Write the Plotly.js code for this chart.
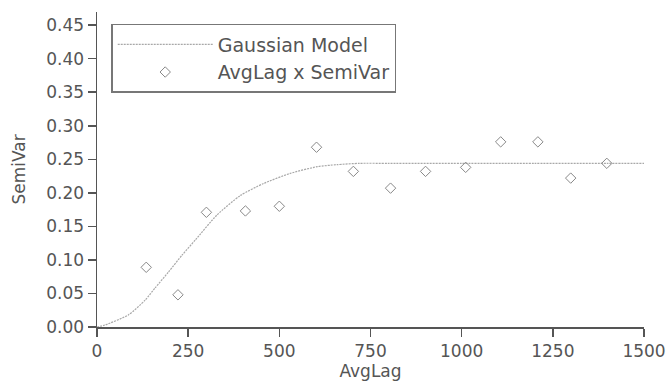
<!DOCTYPE html>
<html>
<head>
<meta charset="utf-8">
<script src="https://cdn.plot.ly/plotly-3.0.1.min.js"></script>
<style>
  html, body { margin: 0; padding: 0; background: #ffffff; }
  #chart { width: 666px; height: 381px; }
</style>
</head>
<body>
<div id="chart"></div>
<script>
const avgLag = [135, 222, 300, 407, 500, 602, 703, 805, 901, 1011, 1107, 1209, 1299, 1398];
const semiVar = [0.089, 0.048, 0.171, 0.173, 0.180, 0.268, 0.232, 0.207, 0.232, 0.238, 0.276, 0.276, 0.222, 0.244];

// Gaussian model curve
const modelLag = [0, 22, 86, 132, 159, 196, 233, 270, 329, 393, 457, 530, 604, 658, 720, 800, 1000, 1200, 1400, 1500];
const modelVar = [0.000, 0.003, 0.018, 0.040, 0.058, 0.082, 0.107, 0.130, 0.167, 0.196, 0.214, 0.229, 0.239, 0.242, 0.244, 0.244, 0.244, 0.244, 0.244, 0.244];

// Tick labels
const xTicks = [0, 250, 500, 750, 1000, 1250, 1500];
const yTicks = [0.00, 0.05, 0.10, 0.15, 0.20, 0.25, 0.30, 0.35, 0.40, 0.45];

const FONT = '"DejaVu Sans", "Liberation Sans", Arial, sans-serif';
const TXT = '#555555';
const AX = '#555555';

const traces = [
  {
    x: modelLag, y: modelVar,
    type: 'scatter', mode: 'lines',
    name: 'Gaussian Model',
    line: { color: '#a8a8a8', width: 1.2, dash: '2px,1px', shape: 'spline', smoothing: 0.6 },
    hoverinfo: 'skip'
  },
  {
    x: avgLag, y: semiVar,
    type: 'scatter', mode: 'markers',
    name: 'AvgLag x SemiVar',
    marker: { symbol: 'diamond-open', size: 8, color: '#888888', line: { width: 1, color: '#888888' } }
  }
];

const layout = {
  width: 666, height: 381,
  margin: { l: 97, r: 22, t: 12, b: 54, pad: 0 },
  paper_bgcolor: '#ffffff', plot_bgcolor: '#ffffff',
  font: { family: FONT, size: 17, color: TXT },
  showlegend: true,
  legend: {
    x: 0.026, y: 0.962, xanchor: 'left', yanchor: 'top',
    bgcolor: '#ffffff', bordercolor: '#777777', borderwidth: 1.5,
    font: { family: FONT, size: 19, color: TXT },
    itemwidth: 95,
    tracegroupgap: 0
  },
  xaxis: {
    range: [0, 1500],
    tickmode: 'array', tickvals: xTicks, ticktext: xTicks.map(String),
    ticks: 'outside', ticklen: 8, tickwidth: 1.5, tickcolor: AX,
    showline: true, linecolor: AX, linewidth: 1.5,
    showgrid: false, zeroline: false,
    tickfont: { family: FONT, size: 17, color: TXT },
    title: { text: 'AvgLag', font: { family: FONT, size: 17, color: TXT }, standoff: 2 }
  },
  yaxis: {
    range: [0, 0.4696],
    tickmode: 'array', tickvals: yTicks, ticktext: yTicks.map(v => v.toFixed(2)),
    ticks: 'outside', ticklen: 8, tickwidth: 1.5, tickcolor: AX,
    showline: true, linecolor: AX, linewidth: 1.5,
    showgrid: false, zeroline: false,
    tickfont: { family: FONT, size: 17, color: TXT },
    title: { text: 'SemiVar', font: { family: FONT, size: 17, color: TXT }, standoff: 16 }
  }
};

Plotly.newPlot('chart', traces, layout, { staticPlot: true, displayModeBar: false });
</script>
</body>
</html>
